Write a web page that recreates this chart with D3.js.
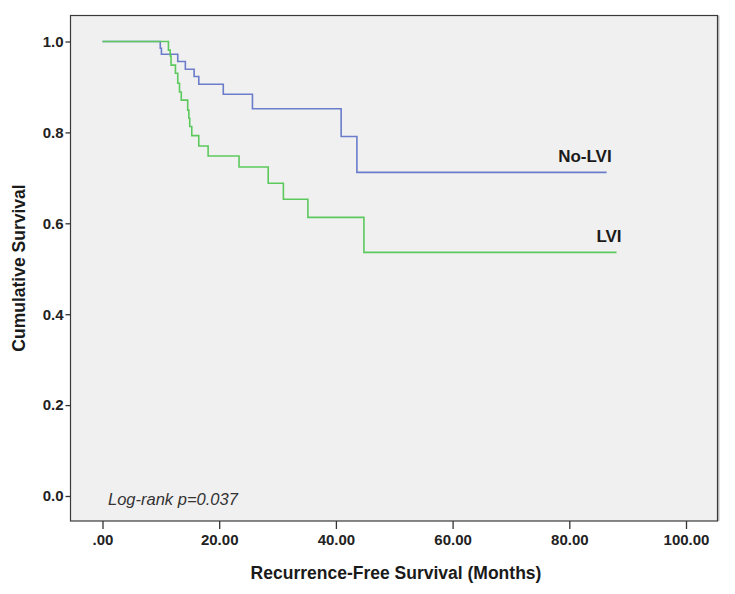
<!DOCTYPE html>
<html>
<head>
<meta charset="utf-8">
<script src="https://cdn.jsdelivr.net/npm/d3@7/dist/d3.min.js"></script>
<style>
  html, body { margin: 0; padding: 0; background: #ffffff; }
  svg { display: block; }
  text { font-family: "Liberation Sans", Arial, sans-serif; }
</style>
</head>
<body>
<svg id="chart" width="735" height="594"></svg>
<script>
// ---- Data ----
const groups = ["No-LVI", "LVI"];
const noLviTimes = [0, 9.9, 10.1, 12.9, 14.2, 15.7, 16.5, 20.7, 25.7, 40.9, 43.6, 86.4];
const noLviSurv  = [1.0, 0.985, 0.972, 0.956, 0.939, 0.923, 0.906, 0.884, 0.852, 0.791, 0.712, 0.712];
const lviTimes = [0, 11.3, 11.6, 11.75, 12.5, 12.9, 13.2, 13.5, 14.6, 14.8, 14.95, 15.3, 16.5, 18.1, 23.4, 28.4, 31.0, 35.2, 44.8, 88.1];
const lviSurv  = [1.0, 0.981, 0.968, 0.948, 0.930, 0.908, 0.889, 0.871, 0.849, 0.831, 0.813, 0.793, 0.770, 0.748, 0.724, 0.688, 0.653, 0.613, 0.536, 0.536];
const xTicks = [0, 20, 40, 60, 80, 100];
const yTicks = [0, 0.2, 0.4, 0.6, 0.8, 1.0];
const xTitle = "Recurrence-Free Survival (Months)";
const yTitle = "Cumulative Survival";
const annotation = "Log-rank p=0.037";

const svg = d3.select("#chart");
const frame = { left: 70.5, top: 15.5, right: 717.5, bottom: 521 };

const x = d3.scaleLinear().domain([0, 100]).range([102.5, 686]);
const y = d3.scaleLinear().domain([0, 1]).range([496, 41.5]);

// plot background + frame
svg.append("rect")
  .attr("x", frame.left).attr("y", frame.top)
  .attr("width", frame.right - frame.left).attr("height", frame.bottom - frame.top)
  .attr("fill", "#f0f0f0").attr("stroke", "#3a3a3a").attr("stroke-width", 1.2);
// slight shadow on the right edge
svg.append("line")
  .attr("x1", frame.right + 1.3).attr("x2", frame.right + 1.3)
  .attr("y1", frame.top).attr("y2", frame.bottom)
  .attr("stroke", "#9a9a9a").attr("stroke-width", 1);

// axes
const xAxis = d3.axisBottom(x).tickValues(xTicks).tickSize(8).tickPadding(5)
  .tickFormat(d => d === 0 ? ".00" : d3.format(".2f")(d));
const gx = svg.append("g").attr("transform", `translate(0,${frame.bottom})`).call(xAxis);
gx.select(".domain").remove();
gx.selectAll(".tick line").attr("stroke", "#333").attr("stroke-width", 1.3);
gx.selectAll(".tick text").attr("font-size", 15).attr("font-weight", "bold")
  .attr("fill", "#222").attr("font-family", "Liberation Sans, Arial, sans-serif");

const yAxis = d3.axisLeft(y).tickValues(yTicks).tickSize(5).tickPadding(2)
  .tickFormat(d3.format(".1f"));
const gy = svg.append("g").attr("transform", `translate(${frame.left},0)`).call(yAxis);
gy.select(".domain").remove();
gy.selectAll(".tick line").attr("stroke", "#333").attr("stroke-width", 1.3);
gy.selectAll(".tick text").attr("font-size", 15).attr("font-weight", "bold")
  .attr("fill", "#222").attr("font-family", "Liberation Sans, Arial, sans-serif");

// curves
const series = [
  { name: groups[0], times: noLviTimes, surv: noLviSurv, color: "#6a7cca" },
  { name: groups[1], times: lviTimes, surv: lviSurv, color: "#5cc95c" }
];
const line = d3.line().x(d => x(d[0])).y(d => y(d[1])).curve(d3.curveStepAfter);
series.forEach(s => {
  const pts = s.times.map((t, i) => [t, s.surv[i]]);
  svg.append("path").datum(pts)
    .attr("d", line).attr("fill", "none")
    .attr("stroke", s.color).attr("stroke-width", 1.6);
  const last = pts[pts.length - 1];
  svg.append("text")
    .attr("x", x(last[0]) + 5).attr("y", y(last[1]) - 10)
    .attr("text-anchor", "end").attr("font-size", 17).attr("font-weight", "bold")
    .attr("fill", "#1a1a1a").text(s.name);
});

// annotation
svg.append("text").attr("x", 108).attr("y", 505)
  .attr("font-size", 16.5).attr("font-style", "italic").attr("fill", "#333")
  .text(annotation);

// axis titles
svg.append("text").attr("x", 396).attr("y", 579)
  .attr("text-anchor", "middle").attr("font-size", 17.5).attr("font-weight", "bold")
  .attr("fill", "#1a1a1a").text(xTitle);
svg.append("text").attr("transform", "translate(25,268) rotate(-90)")
  .attr("text-anchor", "middle").attr("font-size", 17.5).attr("font-weight", "bold")
  .attr("fill", "#1a1a1a").text(yTitle);
</script>
</body>
</html>
